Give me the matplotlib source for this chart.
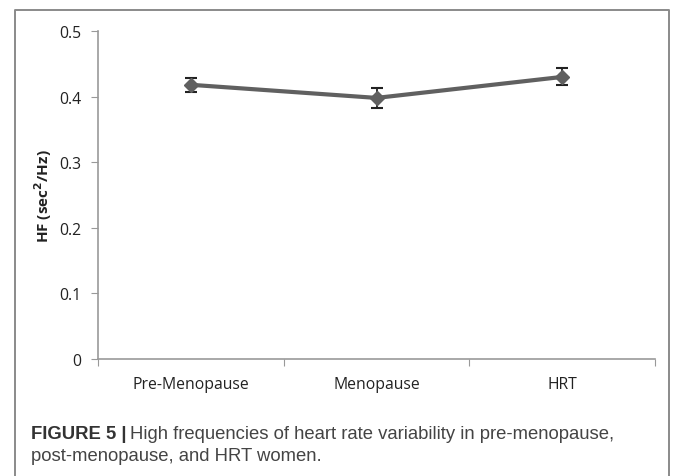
import matplotlib.pyplot as plt
from matplotlib.lines import Line2D

groups = ['Pre-Menopause', 'Menopause', 'HRT']
hf_mean = [0.418, 0.398, 0.430]
hf_err = [0.011, 0.015, 0.013]
yticks = [0, 0.1, 0.2, 0.3, 0.4, 0.5]
ytick_labels = ['0', '0.1', '0.2', '0.3', '0.4', '0.5']

W, H = 673, 477
fig = plt.figure(figsize=(W / 100, H / 100), dpi=100)

# outer frame, open at the bottom (pixel coords measured from the top)
frame_x = [15, 15, 669, 669]
frame_y = [477, 11, 11, 477]
fig.add_artist(Line2D([v / W for v in frame_x], [1 - v / H for v in frame_y],
                      color='#8a8a8a', lw=1.4))

ax = fig.add_axes([98 / W, (H - 360) / H, (655 - 98) / W, (360 - 32) / H])
x = [0.5, 1.5, 2.5]
ax.errorbar(x, hf_mean, yerr=hf_err, color='#606060', lw=3, marker='D', ms=7,
            ecolor='#222222', elinewidth=1.3, capsize=4, capthick=1.5)

ax.set_xlim(0, 3)
ax.set_ylim(0, 0.5)
ax.set_yticks(yticks)
ax.set_yticklabels(ytick_labels)
ax.set_xticks([0, 1, 2, 3])
ax.set_xticklabels([])
ax.set_xticks(x, minor=True)
ax.set_xticklabels(groups, minor=True)
ax.tick_params(axis='x', which='minor', length=0, pad=12)
ax.tick_params(axis='x', which='major', length=5, color='#999999')
ax.tick_params(axis='y', length=5, color='#999999', pad=7)
for lab in ax.get_xticklabels(minor=True) + ax.get_yticklabels():
    lab.set_fontfamily(['Open Sans', 'DejaVu Sans'])
    lab.set_fontsize(11.3)
    lab.set_color('#222222')

for s in ['top', 'right']:
    ax.spines[s].set_visible(False)
for s in ['left', 'bottom']:
    ax.spines[s].set_color('#999999')
    ax.spines[s].set_linewidth(1.2)

ax.set_ylabel('HF (sec$^\\mathbf{2}$/Hz)', fontsize=11, fontweight='bold',
              family=['Open Sans', 'DejaVu Sans'], color='#222222', labelpad=4)

cap_font = ['Liberation Sans', 'DejaVu Sans']
t1 = fig.text(31 / W, 1 - 435 / H, 'FIGURE 5 |', fontsize=13.3, fontweight='bold',
              family=cap_font, color='#333333', va='center')
fig.canvas.draw()
bb = t1.get_window_extent()
fig.text((bb.x1 + 4) / W, 1 - 435 / H,
         'High frequencies of heart rate variability in pre-menopause,',
         fontsize=13.3, family=cap_font, color='#444444', va='center')
fig.text(31 / W, 1 - 457 / H, 'post-menopause, and HRT women.',
         fontsize=13.3, family=cap_font, color='#444444', va='center')

fig.savefig('out.png', dpi=100)
